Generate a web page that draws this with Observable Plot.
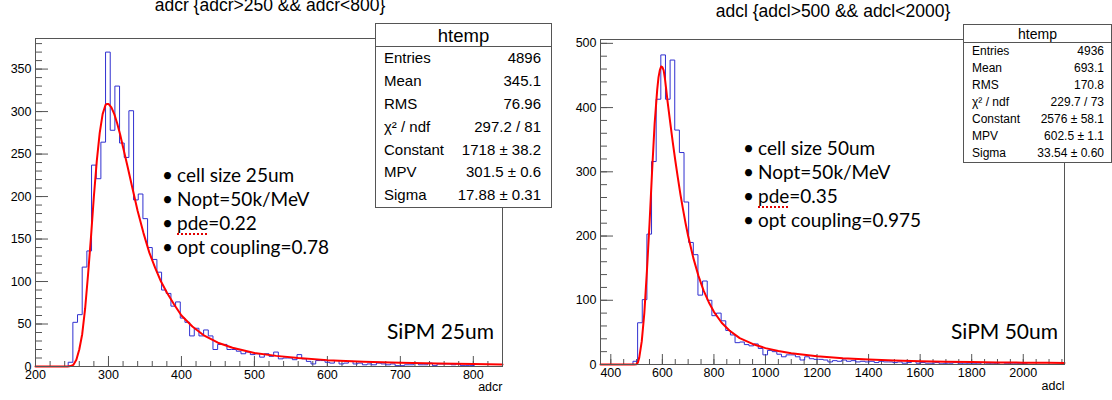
<!DOCTYPE html>
<html>
<head>
<meta charset="utf-8">
<script src="https://cdn.jsdelivr.net/npm/d3@7"></script>
<script src="https://cdn.jsdelivr.net/npm/@observablehq/plot@0.6"></script>
<style>
  html, body { margin: 0; padding: 0; background: #fff; }
  body { width: 1112px; height: 400px; position: relative; overflow: hidden; font-family: "Liberation Sans", Arial, sans-serif; color: #000; }
  .panel { position: absolute; top: 0; }
  .title { position: absolute; font-size: 17.5px; line-height: 1; white-space: nowrap; transform: translateX(-50%); }
  .stats { position: absolute; background: #fff; border: 1px solid #555; box-sizing: border-box; }
  .stats .head { text-align: center; border-bottom: 1px solid #555; box-sizing: border-box; }
  .stats .row { display: flex; justify-content: space-between; white-space: nowrap; }
  .notes { position: absolute; font-family: Lato, "Open Sans", sans-serif; font-size: 19px; line-height: 24px; white-space: nowrap; }
  .notes .b { display: inline-block; width: 15px; }
  .sq { text-decoration: underline dotted #e00000; text-decoration-thickness: 2px; text-underline-offset: 3px; }
  .big { position: absolute; font-family: Lato, "Open Sans", sans-serif; font-size: 21px; line-height: 1; white-space: nowrap; }
</style>
</head>
<body>
<div id="left" class="panel" style="left:0px"></div>
<div id="right" class="panel" style="left:560px"></div>
<script>
// ---------- data ----------
const leftTitle = "adcr {adcr>250 && adcr<800}";
const rightTitle = "adcl {adcl>500 && adcl<2000}";
const leftXLabel = "adcr";
const rightXLabel = "adcl";

// left histogram: 100 bins, width 6.4, starting at 200
const leftBinStart = 200;
const leftBinWidth = 6.4;
const leftCounts = [
  0,0,0,0,0,0,0,
  5,52,61,117,136,237,221,264,370,278,
  330,263,246,301,196,203,174,140,126,111,
  90,86,71,76,57,52,36,45,36,43,
  36,20,26,26,20,20,18,15,17,14,
  15,11,15,12,17,9,10,10,8,14,
  9,6,3,7,7,5,4,7,3,4,
  6,3,4,2,3,2,4,3,2,3,
  1,1,2,2,4,2,2,4,1,3,
  3,3,2,3,1,1,
  1,0,0,0,0,0,0
];
const leftFitX = [200,244,248,252,256,260,264,268,272,276,280,284,288,292,296,298,300,304,308,312,316,320,326,332,340,348,356,364,372,380,390,400,415,430,450,470,500,530,560,600,650,700,750,800,840];
const leftFitY = [0,0,0.5,2,8,20,38,68,108,152,200,242,275,297,308,309,309,305,297,286,273,258,236,213,183,157,134,116,100,87,73,60,47,37,28,22,16,12.5,10,7.5,5.5,4.3,3.5,2.9,2.5];

// right histogram: 100 bins, width 18, starting at 360
const rightBinStart = 360;
const rightBinWidth = 18;
const rightCounts = [
  0,0,0,0,0,0,0,
  5,65,101,203,316,413,482,413,474,365,
  330,253,190,171,108,130,100,76,80,68,
  53,46,34,35,31,29,32,25,15,22,
  20,16,12,15,15,12,7,12,9,8,
  8,7,4,6,5,7,5,6,4,5,
  4,5,3,5,4,4,
  3,4,2,3,5,2,3,2,2,3,
  1,2,2,3,2,1,2,2,1,3,
  2,1,2,3,2,1,1,2,
  1,0,0,0,0,0,0,0,0
];
const rightFitX = [360,490,500,505,510,520,530,540,550,560,570,580,585,590,595,600,605,610,615,620,630,640,650,660,670,680,690,700,720,740,760,780,800,830,860,900,950,1000,1050,1100,1200,1300,1400,1500,1600,1700,1800,1900,2000,2100,2160];
const rightFitY = [0,0,0.5,3,10,36,80,145,218,300,375,428,447,458,464,463,458,445,428,410,378,347,318,291,265,242,220,200,166,138,115,97,82,65,53,41,32,25.5,21,17.5,12.8,9.8,7.8,6.3,5.2,4.4,3.8,3.3,2.9,2.6,2.4];

// axis ticks
const leftXMajor = [200,300,400,500,600,700,800];
const leftYMajor = [0,50,100,150,200,250,300,350];
const rightXMajor = [400,600,800,1000,1200,1400,1600,1800,2000];
const rightYMajor = [0,100,200,300,400,500];

// stats boxes
const statLabels = ["Entries","Mean","RMS","χ² / ndf","Constant","MPV","Sigma"];
const leftStats = ["4896","345.1","76.96","297.2 / 81","1718 ± 38.2","301.5 ± 0.6","17.88 ± 0.31"];
const rightStats = ["4936","693.1","170.8","229.7 / 73","2576 ± 58.1","602.5 ± 1.1","33.54 ± 0.60"];
const statsTitle = "htemp";

// annotations
const leftNotes = ["cell size 25um","Nopt=50k/MeV","pde=0.22","opt coupling=0.78"];
const rightNotes = ["cell size 50um","Nopt=50k/MeV","pde=0.35","opt coupling=0.975"];
const leftTag = "SiPM 25um";
const rightTag = "SiPM 50um";

// ---------- build ----------
function histPoints(start, w, counts) {
  const pts = counts.map((c, i) => ({x: start + i * w, y: c}));
  pts.push({x: start + counts.length * w, y: counts[counts.length - 1]});
  return pts;
}
function fitPoints(xs, ys) { return xs.map((x, i) => ({x, y: ys[i]})); }

function panel(o) {
  const H = 400;
  const fh = H - o.mt - o.mb, fw = o.width - o.ml - o.mr;
  const axisColor = "#555";
  return Plot.plot({
    width: o.width, height: H,
    marginLeft: o.ml, marginRight: o.mr, marginTop: o.mt, marginBottom: o.mb,
    x: {domain: o.xd, label: null},
    y: {domain: o.yd, label: null},
    style: {background: "transparent", color: "#000", fontFamily: "'Liberation Sans', Arial, sans-serif", overflow: "visible"},
    marks: [
      Plot.ruleX(o.xMinor, {x: d => d, insetTop: fh - 5, stroke: axisColor}),
      Plot.ruleX(o.xMajor, {x: d => d, insetTop: fh - 10, stroke: axisColor}),
      Plot.ruleY(o.yMinor, {y: d => d, insetRight: fw - 7, stroke: axisColor}),
      Plot.ruleY(o.yMajor, {y: d => d, insetRight: fw - 13, stroke: axisColor}),
      Plot.line(o.hist, {x: "x", y: "y", curve: "step-after", stroke: "#3030d0", strokeWidth: 1}),
      Plot.line(o.fit, {x: "x", y: "y", stroke: "#ff0000", strokeWidth: 2}),
      Plot.frame({stroke: axisColor}),
      Plot.axisX({ticks: o.xMajor, tickSize: 0, tickPadding: 4, fontSize: 12.5, tickFormat: d => String(d), label: null}),
      Plot.axisY({ticks: o.yMajor, tickSize: 0, tickPadding: 4, fontSize: 12.5, tickFormat: d => String(d), label: null}),
      Plot.text([o.xLabel], {text: d => d, frameAnchor: "bottom-right", dy: o.labelDy, textAnchor: "end", fontSize: 12.5})
    ]
  });
}

const leftPlot = panel({
  width: 560, ml: 35, mr: 58, mt: 38, mb: 34,
  xd: [200, 840], yd: [0, 386],
  xMajor: leftXMajor, xMinor: d3.range(200, 841, 20),
  yMajor: leftYMajor, yMinor: d3.range(0, 386, 10),
  hist: histPoints(leftBinStart, leftBinWidth, leftCounts),
  fit: fitPoints(leftFitX, leftFitY),
  xLabel: leftXLabel, labelDy: 24
});
const rightPlot = panel({
  width: 552, ml: 40, mr: 48, mt: 39, mb: 36,
  xd: [360, 2160], yd: [0, 506],
  xMajor: rightXMajor, xMinor: d3.range(400, 2160, 50),
  yMajor: rightYMajor, yMinor: d3.range(0, 506, 20),
  hist: histPoints(rightBinStart, rightBinWidth, rightCounts),
  fit: fitPoints(rightFitX, rightFitY),
  xLabel: rightXLabel, labelDy: 25
});
document.getElementById("left").appendChild(leftPlot);
document.getElementById("right").appendChild(rightPlot);

function addDiv(cls, css) {
  const d = document.createElement("div");
  d.className = cls;
  Object.assign(d.style, css);
  document.body.appendChild(d);
  return d;
}

// titles
addDiv("title", {left: "270px", top: "-3px"}).textContent = leftTitle;
addDiv("title", {left: "833px", top: "3px"}).textContent = rightTitle;

// stats boxes
function statsBox(cfg, values) {
  const box = addDiv("stats", {left: cfg.left + "px", top: cfg.top + "px", width: cfg.width + "px"});
  const head = document.createElement("div");
  head.className = "head";
  Object.assign(head.style, {height: cfg.headH + "px", lineHeight: cfg.headH + "px", fontSize: cfg.headFont + "px"});
  head.textContent = statsTitle;
  box.appendChild(head);
  statLabels.forEach((lab, i) => {
    const r = document.createElement("div");
    r.className = "row";
    Object.assign(r.style, {height: cfg.rowH + "px", lineHeight: cfg.rowH + "px", fontSize: cfg.rowFont + "px", padding: `0 ${cfg.padR}px 0 ${cfg.padL}px`});
    const a = document.createElement("span"); a.textContent = lab;
    const b = document.createElement("span"); b.textContent = values[i];
    r.appendChild(a); r.appendChild(b);
    box.appendChild(r);
  });
}
statsBox({left: 375, top: 23, width: 177, headH: 23, rowH: 22.9, headFont: 18.5, rowFont: 15, padL: 8, padR: 10}, leftStats);
statsBox({left: 963, top: 24, width: 149, headH: 18, rowH: 17, headFont: 14, rowFont: 12, padL: 8, padR: 7}, rightStats);

// bullet notes
function notes(x, y, list) {
  const d = addDiv("notes", {left: x + "px", top: y + "px"});
  list.forEach(t => {
    const line = document.createElement("div");
    const b = document.createElement("span"); b.className = "b"; b.textContent = "•";
    line.appendChild(b);
    if (t.startsWith("pde")) {
      const s = document.createElement("span"); s.className = "sq"; s.textContent = "pde";
      line.appendChild(s);
      line.appendChild(document.createTextNode(t.slice(3)));
    } else {
      line.appendChild(document.createTextNode(t));
    }
    d.appendChild(line);
  });
}
notes(162, 163, leftNotes);
notes(743, 136, rightNotes);

addDiv("big", {left: "387px", top: "320px"}).textContent = leftTag;
addDiv("big", {left: "951px", top: "320px"}).textContent = rightTag;
</script>
</body>
</html>
